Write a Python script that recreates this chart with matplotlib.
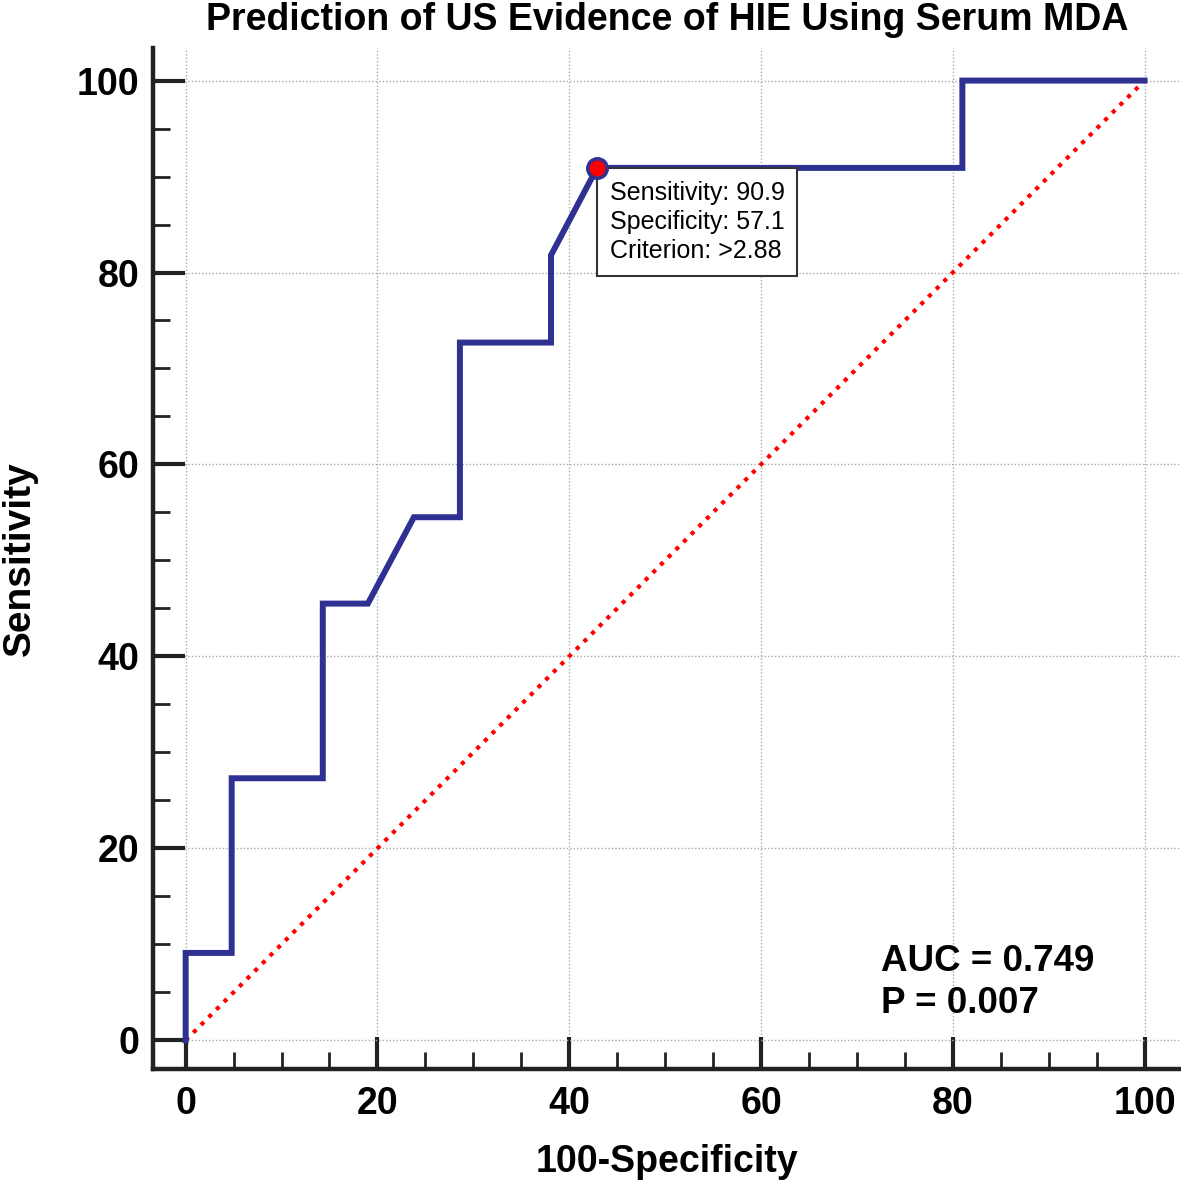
import matplotlib.pyplot as plt
from matplotlib.ticker import MultipleLocator

plt.rcParams['font.family'] = ['Liberation Sans', 'DejaVu Sans']

# ROC curve points (100-Specificity, Sensitivity)
fpr = [0, 0, 4.8, 4.8, 14.3, 14.3, 19.0, 23.8, 28.6, 28.6, 38.1, 38.1, 42.9, 81.0, 81.0, 100]
tpr = [0, 9.1, 9.1, 27.3, 27.3, 45.5, 45.5, 54.5, 54.5, 72.7, 72.7, 81.8, 90.9, 90.9, 100, 100]

# optimal criterion point
best_x = 42.9
best_y = 90.9
best_text = "Sensitivity: 90.9\nSpecificity: 57.1\nCriterion: >2.88"

auc_text = "AUC = 0.749\nP = 0.007"

fig = plt.figure(figsize=(11.81, 11.81), dpi=100)
ax = fig.add_axes([0.1296, 0.0948, 0.8704, 0.8646])

# reference diagonal
ax.plot([0, 100], [0, 100], color='red', linestyle=(0, (1, 1.6)), linewidth=3)
# ROC curve
ax.plot(fpr, tpr, color='#2e3192', linewidth=4.3, solid_joinstyle='miter')
ax.plot(best_x, best_y, 'o', markersize=14, markerfacecolor='red',
        markeredgecolor='#2e3192', markeredgewidth=2.5, zorder=5)

ax.text(best_x + 1.35, best_y - 1.35, best_text, fontsize=18, va='top', ha='left',
        linespacing=1.27,
        bbox=dict(boxstyle='square,pad=0.5', facecolor='white', edgecolor='#333333', linewidth=1.5))

ax.text(72.5, 6.0, auc_text, fontsize=26.5, fontweight='bold', va='center', ha='left',
        linespacing=1.25)

ax.set_xlim(-3.4, 103.8)
ax.set_ylim(-3.0, 103.4)

ax.xaxis.set_major_locator(MultipleLocator(20))
ax.xaxis.set_minor_locator(MultipleLocator(5))
ax.yaxis.set_major_locator(MultipleLocator(20))
ax.yaxis.set_minor_locator(MultipleLocator(5))

ax.grid(True, which='major', color='#aaaaaa', linestyle=(0, (1, 1.5)), linewidth=1)

for side in ['top', 'right']:
    ax.spines[side].set_visible(False)
for side in ['left', 'bottom']:
    ax.spines[side].set_linewidth(3.2)
    ax.spines[side].set_color('#222222')

ax.tick_params(which='major', direction='in', length=23, width=3, color='#222222',
               labelsize=27)
ax.tick_params(which='minor', direction='in', length=12, width=2, color='#222222')
for lbl in ax.get_xticklabels() + ax.get_yticklabels():
    lbl.set_fontweight('bold')
ax.tick_params(axis='y', pad=10)
ax.tick_params(axis='x', pad=12)

ax.set_xlabel("100-Specificity", fontsize=27, fontweight='bold', labelpad=16)
ax.set_ylabel("Sensitivity", fontsize=28, fontweight='bold', labelpad=28)
ax.set_title("Prediction of US Evidence of HIE Using Serum MDA", fontsize=27,
             fontweight='bold', pad=13, x=0.5)

fig.savefig("out.png", dpi=100)
